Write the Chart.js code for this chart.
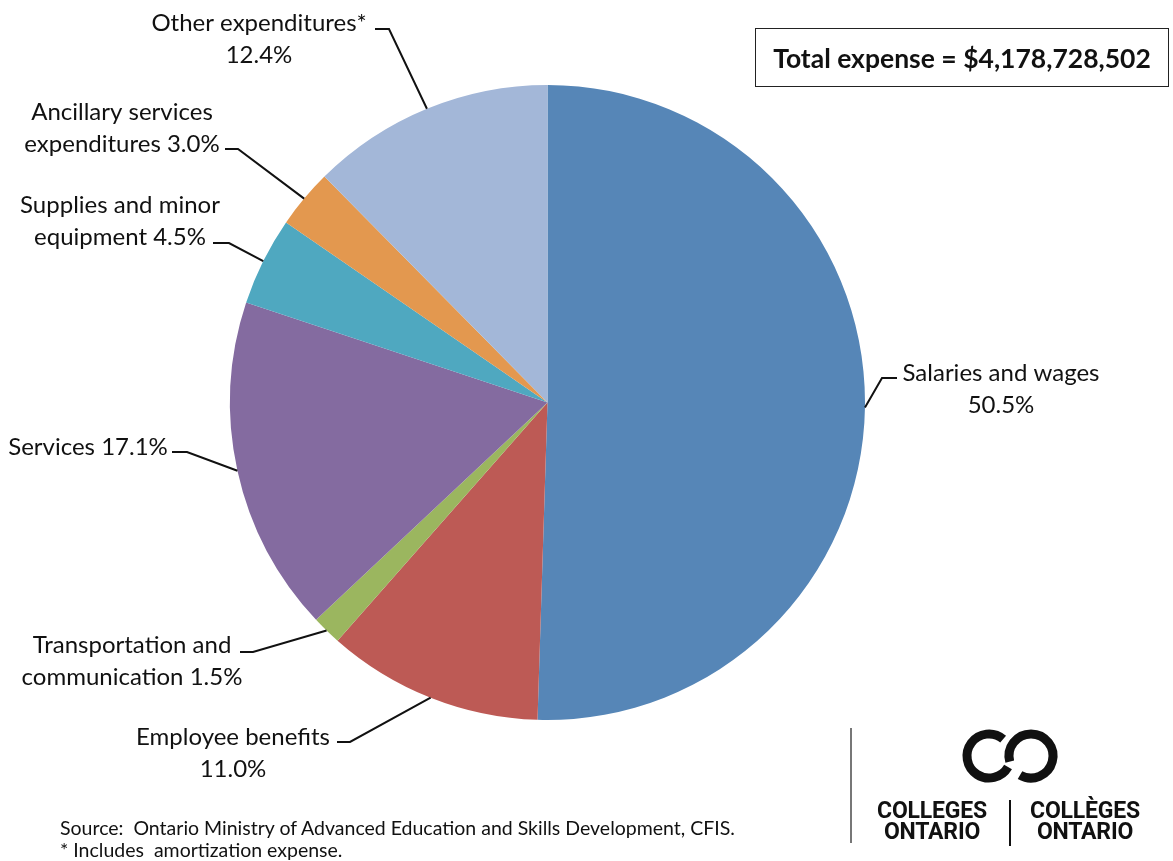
<!DOCTYPE html>
<html>
<head>
<meta charset="utf-8">
<script src="https://cdn.jsdelivr.net/npm/chart.js@4/dist/chart.umd.min.js"></script>
<style>
    html, body { margin: 0; padding: 0; background: #fff; }
    #wrap { position: relative; width: 1173px; height: 861px; overflow: hidden; }
    #expenseChart { position: absolute; left: 0; top: 0; }
    #totalBox {
        position: absolute; left: 755px; top: 28px; width: 412px; height: 57px;
        border: 1.5px solid #222; box-sizing: content-box;
        font: bold 26.5px Lato, sans-serif; color: #111;
        display: flex; align-items: center; justify-content: center;
    }
    #source {
        position: absolute; left: 60px; top: 817px;
        font: 19.5px Lato, sans-serif; color: #111; line-height: 22px; white-space: pre;
    }
    #logoRule { position: absolute; left: 850px; top: 728px; width: 1.5px; height: 115px; background: #777; }
    #logo { position: absolute; left: 866px; top: 726px; width: 300px; height: 125px; }
    .word {
        position: absolute; font: bold 23px Roboto, sans-serif; color: #111;
        text-align: center; line-height: 21px; letter-spacing: -0.2px;
    }
</style>
</head>
<body>
<div id="wrap">
    <canvas id="expenseChart" width="1173" height="861"></canvas>
    <div id="totalBox"></div>
    <div id="source"></div>
    <div id="logoRule"></div>
    <div id="logo">
        <svg width="300" height="70" style="position:absolute;left:0;top:0">
            <path d="M 142.05 41 A 22 22 0 1 1 137.14 13.15" fill="none" stroke="#111" stroke-width="9"/>
            <path d="M 143.75 35.69 A 22 22 0 1 1 154 49.05" fill="none" stroke="#111" stroke-width="9"/>
        </svg>
        <div class="word" style="left:3px;top:74px;width:126px">COLLEGES<br>ONTARIO</div>
        <div style="position:absolute;left:143px;top:74px;width:1.5px;height:46px;background:#111"></div>
        <div class="word" style="left:156px;top:74px;width:126px">COLLÈGES<br>ONTARIO</div>
    </div>
</div>
<script>
'use strict';

/** College expense breakdown pie */

const categories = [
    'Salaries and wages',
    'Employee benefits',
    'Transportation and communication',
    'Services',
    'Supplies and minor equipment',
    'Ancillary services expenditures',
    'Other expenditures*',
];
const shares = [50.5, 11.0, 1.5, 17.1, 4.5, 3.0, 12.4];
const totalExpense = 4178728502;
const sourceNotes = [
    'Source:  Ontario Ministry of Advanced Education and Skills Development, CFIS.',
    '* Includes  amortization expense.',
];

const sliceColors = ['#5686b7', '#bd5a55', '#9bb65f', '#846ba0', '#4fa8c0', '#e3984f', '#a3b7d8'];

// where each callout sits: words on first line, text centre, leader elbow and tail
const labelLayout = [
    { firstWords: 3, x: 1001, y: 373, elbow: [882, 378], tail: [897, 378] },
    { firstWords: 2, x: 233, y: 737, elbow: [350, 742], tail: [337, 742] },
    { firstWords: 2, x: 132, y: 645, elbow: [253, 652], tail: [240, 652] },
    { firstWords: 9, x: 88, y: 447, elbow: [187, 452], tail: [172, 452] },
    { firstWords: 3, x: 120, y: 205, elbow: [229, 243], tail: [213, 243] },
    { firstWords: 2, x: 122, y: 112, elbow: [238, 149], tail: [225, 149] },
    { firstWords: 2, x: 259, y: 23, elbow: [389, 29], tail: [375, 29] },
];
const lineGap = 32;

document.getElementById('totalBox').textContent =
    `Total expense = $${totalExpense.toLocaleString('en-US')}`;
document.getElementById('source').textContent = sourceNotes.join('\n');

function labelLines(i) {
    const words = `${categories[i]} ${shares[i].toFixed(1)}%`.split(' ');
    const n = labelLayout[i].firstWords;
    const lines = [words.slice(0, n).join(' ')];
    if (words.length > n) lines.push(words.slice(n).join(' '));
    return lines;
}

const calloutPlugin = {
    id: 'callouts',
    afterDatasetsDraw(chart) {
        const ctx = chart.ctx;
        const arcs = chart.getDatasetMeta(0).data;
        ctx.save();
        arcs.forEach((arc, i) => {
            const { x, y, startAngle, endAngle, outerRadius } = arc.getProps(
                ['x', 'y', 'startAngle', 'endAngle', 'outerRadius'], true);
            const mid = (startAngle + endAngle) / 2;
            const px = x + Math.cos(mid) * outerRadius;
            const py = y + Math.sin(mid) * outerRadius;
            const lay = labelLayout[i];

            ctx.beginPath();
            ctx.moveTo(px, py);
            ctx.lineTo(lay.elbow[0], lay.elbow[1]);
            ctx.lineTo(lay.tail[0], lay.tail[1]);
            ctx.strokeStyle = '#111';
            ctx.lineWidth = 2;
            ctx.stroke();

            ctx.fillStyle = '#111';
            ctx.font = '24px Lato, sans-serif';
            ctx.textAlign = 'center';
            ctx.textBaseline = 'middle';
            labelLines(i).forEach((line, k) => {
                ctx.fillText(line, lay.x, lay.y + k * lineGap);
            });
        });
        ctx.restore();
    },
};

const expenseChart = new Chart(document.getElementById('expenseChart').getContext('2d'), {
    type: 'pie',
    data: {
        labels: categories,
        datasets: [
            {
                data: shares,
                backgroundColor: sliceColors,
                borderWidth: 0,
            },
        ],
    },
    options: {
        responsive: false,
        animation: false,
        layout: {
            padding: { left: 230, top: 85, right: 308, bottom: 141 },
        },
        plugins: {
            legend: { display: false },
            tooltip: { enabled: false },
        },
    },
    plugins: [calloutPlugin],
});
</script>
</body>
</html>
